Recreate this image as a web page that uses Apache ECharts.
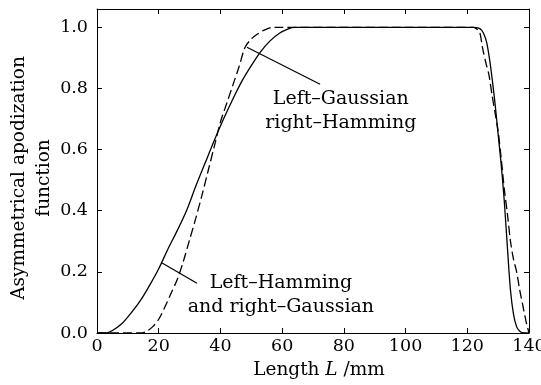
<!DOCTYPE html>
<html><head><meta charset="utf-8">
<script src="https://cdn.jsdelivr.net/npm/echarts@6/dist/echarts.min.js"></script>
<style>html,body{margin:0;padding:0;background:#fff;overflow:hidden}#c{width:541px;height:385px}</style>
</head><body><div id="c"></div>
<script>
// Left-Hamming and right-Gaussian (solid)
const solidX = [0, 3, 5, 8, 11, 14, 17, 20, 23, 26, 29, 32, 35, 38, 41, 44, 47, 50, 53, 56, 59, 62, 64,
  122, 123.5, 124.7, 125.5, 126.3, 127.3, 128.2, 129, 130, 131, 132, 133, 134, 135, 136, 137, 138, 140];
const solidY = [0, 0, 0.008, 0.03, 0.065, 0.105, 0.155, 0.21, 0.275, 0.335, 0.40, 0.48, 0.555, 0.63, 0.70, 0.765, 0.825, 0.875, 0.92, 0.955, 0.98, 0.995, 1.0,
  1.0, 0.998, 0.99, 0.975, 0.95, 0.89, 0.82, 0.75, 0.65, 0.55, 0.43, 0.28, 0.14, 0.06, 0.02, 0.006, 0.001, 0];
// Left-Gaussian and right-Hamming (dashed)
const dashX = [0, 14, 16, 18, 20, 22, 24, 26, 28, 30, 32, 34, 36, 38, 40, 42, 44, 46, 48, 50, 52, 54, 57,
  122, 123, 124, 125, 126, 127, 128, 129, 130, 131, 132, 133, 134, 135, 136, 137, 138, 139, 140];
const dashY = [0, 0, 0.005, 0.02, 0.045, 0.085, 0.13, 0.175, 0.235, 0.305, 0.375, 0.45, 0.53, 0.61, 0.69, 0.75, 0.81, 0.87, 0.935, 0.962, 0.978, 0.99, 1.0,
  1.0, 0.995, 0.985, 0.93, 0.885, 0.845, 0.78, 0.72, 0.66, 0.57, 0.47, 0.39, 0.30, 0.24, 0.20, 0.14, 0.09, 0.04, 0];
const xTicks = [0, 20, 40, 60, 80, 100, 120, 140];
const yTicks = ['0.0', '0.2', '0.4', '0.6', '0.8', '1.0'];
// annotation pointers [x1,y1,x2,y2] in data units
const pointerGauss = [48.6, 0.935, 72.3, 0.814];
const pointerHamm = [21.1, 0.229, 32.4, 0.163];
const labelGauss = {x: 79, y: 0.725, text: 'Left\u2013Gaussian\nright\u2013Hamming'};
const labelHamm = {x: 59.6, y: 0.124, text: 'Left\u2013Hamming\nand right\u2013Gaussian'};

const F = 'DejaVu Serif';
const chart = echarts.init(document.getElementById('c'));
const toPairs = (xs, ys) => xs.map((x, i) => [x, ys[i]]);
const axisCommon = {
  type: 'value',
  axisLine: {show: true, onZero: false, lineStyle: {color: '#000', width: 1}},
  axisTick: {show: true, inside: true, length: 5, lineStyle: {color: '#000', width: 1}},
  splitLine: {show: false}
};
const xAxisBase = Object.assign({}, axisCommon, {min: 0, max: 140, interval: 20});
const yAxisBase = Object.assign({}, axisCommon, {min: 0, max: 1.06, interval: 0.2});
const ml = (p) => ({
  silent: true, symbol: 'none', label: {show: false},
  lineStyle: {type: 'solid', color: '#000', width: 1.2},
  data: [[{coord: [p[0], p[1]]}, {coord: [p[2], p[3]]}]]
});
chart.setOption({
  animation: false,
  backgroundColor: '#fff',
  grid: {left: 97, right: 12, top: 9, bottom: 52, containLabel: false, outerBoundsMode: 'none'},
  xAxis: [
    Object.assign({}, xAxisBase, {position: 'bottom',
      axisLabel: {color: '#000', fontFamily: F, fontSize: 17.5, margin: 4,
        formatter: v => xTicks.includes(v) ? String(v) : ''}}),
    Object.assign({}, xAxisBase, {position: 'top', axisLabel: {show: false}})
  ],
  yAxis: [
    Object.assign({}, yAxisBase, {position: 'left',
      axisLabel: {color: '#000', fontFamily: F, fontSize: 17.5, margin: 9,
        formatter: v => { const k = Math.round(v / 0.2); return Math.abs(v - k * 0.2) < 1e-6 ? yTicks[k] : ''; }}}),
    Object.assign({}, yAxisBase, {position: 'right', axisLabel: {show: false}})
  ],
  series: [
    {type: 'line', data: toPairs(solidX, solidY), showSymbol: false, smooth: 0.3,
      lineStyle: {color: '#000', width: 1.3, type: 'solid'}, markLine: ml(pointerHamm)},
    {type: 'line', data: toPairs(dashX, dashY), showSymbol: false, smooth: 0.3,
      lineStyle: {color: '#000', width: 1.3, type: [9, 4]}, markLine: ml(pointerGauss)}
  ]
});
const p1 = chart.convertToPixel({gridIndex: 0}, [labelGauss.x, labelGauss.y]);
const p2 = chart.convertToPixel({gridIndex: 0}, [labelHamm.x, labelHamm.y]);
const txt = (p, t) => ({type: 'text', x: p[0], y: p[1], style: {text: t, fontFamily: F, fontSize: 19,
  lineHeight: 24, fill: '#000', align: 'center', verticalAlign: 'middle'}});
chart.setOption({graphic: [
  txt(p1, labelGauss.text), txt(p2, labelHamm.text),
  {type: 'text', x: 32, y: 178, rotation: Math.PI / 2,
    style: {text: 'Asymmetrical apodization\nfunction', fontFamily: F, fontSize: 18.5, lineHeight: 25,
      fill: '#000', align: 'center', verticalAlign: 'middle'}},
  {type: 'text', x: 319, y: 370,
    style: {text: '{a|Length }{b|L}{a| /mm}', align: 'center', verticalAlign: 'middle',
      rich: {a: {fontFamily: F, fontSize: 18.5, fill: '#000'}, b: {fontFamily: F, fontSize: 18.5, fontStyle: 'italic', fill: '#000'}}}}
]});
</script></body></html>
